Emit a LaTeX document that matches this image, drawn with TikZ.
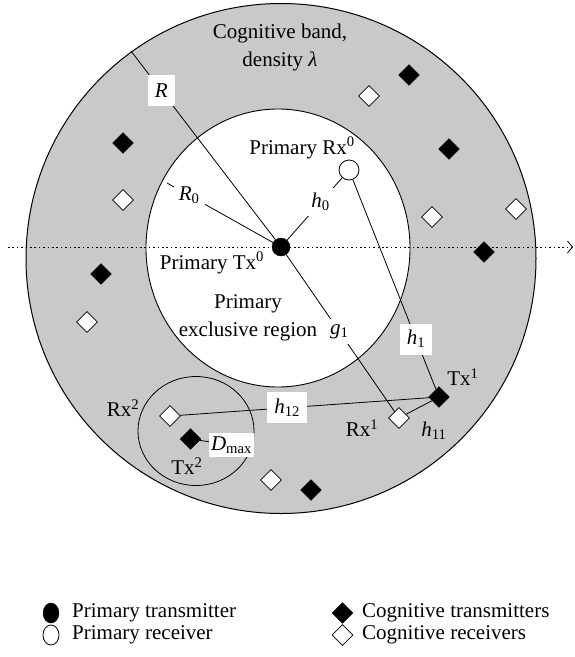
\documentclass[tikz,border=0pt]{standalone}
\usepackage{fontspec}
\setmainfont{Liberation Serif}
\usetikzlibrary{shapes.geometric,arrows.meta}
\definecolor{bandgray}{RGB}{201,201,201}
\begin{document}
\begin{tikzpicture}[x=1pt,y=-1pt,
  font=\fontsize{21}{28}\selectfont,
  txnode/.style={circle,fill=black,draw=black,minimum size=18pt,inner sep=0},
  rxnode/.style={circle,fill=white,draw=black,line width=0.8pt,minimum size=20pt,inner sep=0},
  ctx/.style={diamond,fill=black,draw=black,minimum size=21pt,inner sep=0},
  crx/.style={diamond,fill=white,draw=black,line width=0.8pt,minimum size=21pt,inner sep=0},
  link/.style={line width=0.8pt},
  labopen/.style={fill=white,inner sep=5pt},
  labbox/.style={fill=white,inner ysep=0pt,inner xsep=7pt,minimum height=31pt},
  txt/.style={inner sep=0,align=center}]
\useasboundingbox (0,0) rectangle (574,657);
% regions
\draw[line width=1pt,fill=bandgray] (281,258.5) circle[radius=255];
\draw[line width=0.9pt,fill=white] (278,248) ellipse[x radius=132,y radius=139];
\draw[line width=0.8pt] (196,431) ellipse[x radius=58,y radius=54.5];
% axis
\coordinate (axL) at (8,247);
\coordinate (axR) at (573,247);
\draw[line width=0.8pt,dash pattern=on 1.6pt off 2.8pt,-{Straight Barb[length=5pt,width=12pt,line width=0.8pt]}] (axL) -- (axR);
% main nodes
\node[txnode] (tx0) at (281,247) {};
\node[rxnode] (rx0) at (349,170) {};
\node[ctx] (tx1) at (439,397) {};
\node[crx] (rx1) at (399,418) {};
\node[crx] (rx2) at (170,416) {};
\node[ctx] (tx2) at (190.5,439) {};
% other cognitive nodes
\node[ctx] (c1) at (409,75) {};
\node[ctx] (c2) at (123,143) {};
\node[ctx] (c3) at (449,149) {};
\node[ctx] (c4) at (484,252) {};
\node[ctx] (c5) at (101,274) {};
\node[ctx] (c6) at (311,490) {};
\node[crx] (d1) at (369,96) {};
\node[crx] (d2) at (123,200) {};
\node[crx] (d3) at (432,217) {};
\node[crx] (d4) at (516,209) {};
\node[crx] (d5) at (87,322) {};
\node[crx] (d6) at (271,480) {};
% free ends
\coordinate (Rend) at (131,51);
\coordinate (R0end) at (167,183);
% connectors
\draw[link] (Rend) -- node[labbox,pos=0.21] (Rlab) {\textit{R}} (tx0);
\draw[link] (tx0) -- node[labopen,pos=0.79] (R0lab) {\textit{R}\textsubscript{0}} (R0end);
\draw[link] (tx0) -- node[labopen,pos=0.61] (h0lab) {\textit{h}\textsubscript{0}} (rx0);
\draw[link] (rx0) -- node[labbox,pos=0.76] (h1lab) {\textit{h}\textsubscript{1}} (tx1);
\draw[link] (tx0) -- node[labopen,pos=0.49] (g1lab) {\textit{g}\textsubscript{1}} (rx1);
\draw[link] (rx2) -- node[labbox,pos=0.43] (h12lab) {\textit{h}\textsubscript{12}} (tx1);
\draw[link] (rx1) -- (tx1);
\node[fill=white,inner xsep=2pt,inner ysep=0pt,minimum height=24pt] (dmax) at (231.5,445) {\textit{D}\textsubscript{max}};
\draw[link] (tx2) -- (dmax);
% texts
\node[txt] (band) at (280,47) {Cognitive band,\\density \textit{λ}};
\node[txt] (prx) at (302,148) {Primary Rx\textsuperscript{0}};
\node[txt] (ptx) at (212,263) {Primary Tx\textsuperscript{0}};
\node[txt] (excl) at (248,318) {Primary\\exclusive region};
\node[txt] (tx1t) at (463,377) {Tx\textsuperscript{1}};
\node[txt] (rx1t) at (362,428) {Rx\textsuperscript{1}};
\node[txt] (h11t) at (434,431) {\textit{h}\textsubscript{11}};
\node[txt] (rx2t) at (123,408) {Rx\textsuperscript{2}};
\node[txt] (tx2t) at (187,466) {Tx\textsuperscript{2}};
% legend
\node[txnode,minimum width=16pt,minimum height=20pt,ellipse] (ltx) at (51,613) {};
\node[rxnode,ellipse,minimum width=16pt,minimum height=20pt] (lrx) at (51,635) {};
\node[ctx] (lctx) at (342.5,613) {};
\node[crx] (lcrx) at (342.5,635) {};
\node[anchor=west,inner sep=0] (ltxt) at (72,613) {Primary transmitter};
\node[anchor=west,inner sep=0] (lrxt) at (72,635) {Primary receiver};
\node[anchor=west,inner sep=0] (lctxt) at (362,613) {Cognitive transmitters};
\node[anchor=west,inner sep=0] (lcrxt) at (362,635) {Cognitive receivers};
\end{tikzpicture}
\end{document}
